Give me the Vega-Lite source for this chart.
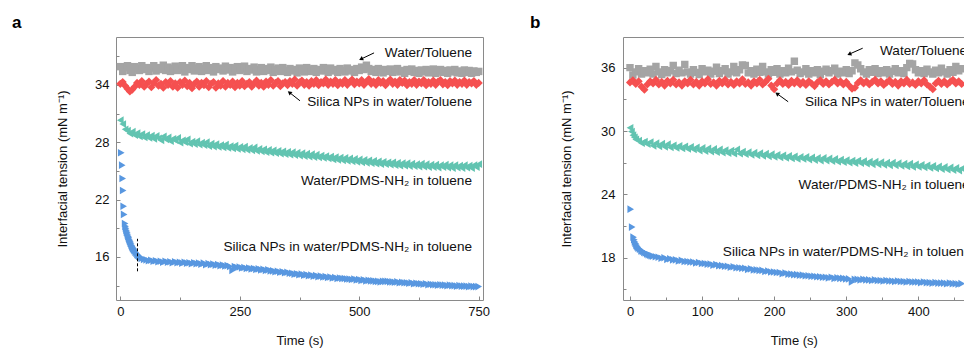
{
"$schema":"https://vega.github.io/schema/vega-lite/v6.json",
"padding":{"left":11,"top":13,"right":0,"bottom":0},
"spacing":39,
"config":{"font":"Liberation Sans","view":{"stroke":"#8a8a8a"},"axis":{"grid":false,"labelFontSize":13,"titleFontSize":13,"titleFontWeight":"normal","labelColor":"#111","titleColor":"#111","tickColor":"#888","domainColor":"#8a8a8a","labelFlush":false,"labelOverlap":false}},
"datasets":{
"aG":[{"t":0,"v":35.9},{"t":5,"v":35.4},{"t":10,"v":35.8},{"t":15,"v":36.0},{"t":20,"v":35.5},{"t":25,"v":35.3},{"t":30,"v":35.9},{"t":35,"v":35.7},{"t":40,"v":35.5},{"t":45,"v":36.0},{"t":50,"v":35.6},{"t":55,"v":35.8},{"t":60,"v":35.4},{"t":65,"v":35.75},{"t":70,"v":36.0},{"t":75,"v":35.45},{"t":80,"v":35.8},{"t":85,"v":35.6},{"t":90,"v":36.05},{"t":95,"v":35.5},{"t":100,"v":35.85},{"t":105,"v":35.4},{"t":110,"v":35.7},{"t":115,"v":35.95},{"t":120,"v":35.5},{"t":125,"v":35.65},{"t":130,"v":36.0},{"t":135,"v":35.35},{"t":140,"v":35.8},{"t":145,"v":35.6},{"t":150,"v":36.0},{"t":155,"v":35.45},{"t":160,"v":35.75},{"t":165,"v":35.9},{"t":170,"v":35.4},{"t":175,"v":35.7},{"t":180,"v":36.0},{"t":185,"v":35.5},{"t":190,"v":35.8},{"t":195,"v":35.35},{"t":200,"v":35.9},{"t":205,"v":35.6},{"t":210,"v":35.75},{"t":215,"v":35.45},{"t":220,"v":35.95},{"t":225,"v":35.55},{"t":230,"v":35.8},{"t":235,"v":35.35},{"t":240,"v":35.7},{"t":245,"v":35.9},{"t":250,"v":35.5},{"t":255,"v":35.65},{"t":260,"v":35.95},{"t":265,"v":35.4},{"t":270,"v":35.7},{"t":275,"v":35.55},{"t":280,"v":35.85},{"t":285,"v":35.35},{"t":290,"v":35.6},{"t":295,"v":35.8},{"t":300,"v":35.4},{"t":305,"v":35.7},{"t":310,"v":35.5},{"t":315,"v":35.85},{"t":320,"v":35.3},{"t":325,"v":35.6},{"t":330,"v":35.75},{"t":335,"v":35.4},{"t":340,"v":35.8},{"t":345,"v":35.5},{"t":350,"v":35.3},{"t":355,"v":35.7},{"t":360,"v":35.45},{"t":365,"v":35.6},{"t":370,"v":35.25},{"t":375,"v":35.75},{"t":380,"v":35.5},{"t":385,"v":35.35},{"t":390,"v":35.8},{"t":395,"v":35.55},{"t":400,"v":35.4},{"t":405,"v":35.7},{"t":410,"v":35.3},{"t":415,"v":35.6},{"t":420,"v":35.45},{"t":425,"v":35.8},{"t":430,"v":35.5},{"t":435,"v":35.3},{"t":440,"v":35.75},{"t":445,"v":35.45},{"t":450,"v":35.6},{"t":455,"v":35.3},{"t":460,"v":35.7},{"t":465,"v":35.5},{"t":470,"v":35.35},{"t":475,"v":35.75},{"t":480,"v":35.45},{"t":485,"v":35.6},{"t":490,"v":35.3},{"t":495,"v":35.7},{"t":500,"v":35.5},{"t":505,"v":35.85},{"t":510,"v":35.6},{"t":515,"v":36.05},{"t":520,"v":35.7},{"t":525,"v":35.4},{"t":530,"v":35.6},{"t":535,"v":35.3},{"t":540,"v":35.7},{"t":545,"v":35.45},{"t":550,"v":35.25},{"t":555,"v":35.6},{"t":560,"v":35.4},{"t":565,"v":35.65},{"t":570,"v":35.3},{"t":575,"v":35.55},{"t":580,"v":35.7},{"t":585,"v":35.35},{"t":590,"v":35.5},{"t":595,"v":35.2},{"t":600,"v":35.6},{"t":605,"v":35.4},{"t":610,"v":35.65},{"t":615,"v":35.3},{"t":620,"v":35.5},{"t":625,"v":35.2},{"t":630,"v":35.55},{"t":635,"v":35.35},{"t":640,"v":35.6},{"t":645,"v":35.25},{"t":650,"v":35.5},{"t":655,"v":35.65},{"t":660,"v":35.2},{"t":665,"v":35.45},{"t":670,"v":35.6},{"t":675,"v":35.3},{"t":680,"v":35.5},{"t":685,"v":35.2},{"t":690,"v":35.55},{"t":695,"v":35.35},{"t":700,"v":35.6},{"t":705,"v":35.25},{"t":710,"v":35.45},{"t":715,"v":35.2},{"t":720,"v":35.55},{"t":725,"v":35.3},{"t":730,"v":35.5},{"t":735,"v":35.2},{"t":740,"v":35.45},{"t":745,"v":35.3},{"t":750,"v":35.4}],
"aR":[{"t":0,"v":34.1},{"t":5,"v":34.3},{"t":10,"v":33.9},{"t":15,"v":33.6},{"t":20,"v":33.3},{"t":25,"v":33.5},{"t":30,"v":33.8},{"t":35,"v":34.2},{"t":40,"v":34.0},{"t":45,"v":34.4},{"t":50,"v":33.8},{"t":55,"v":34.1},{"t":60,"v":34.35},{"t":65,"v":33.75},{"t":70,"v":34.2},{"t":75,"v":34.5},{"t":80,"v":33.9},{"t":85,"v":34.1},{"t":90,"v":33.7},{"t":95,"v":34.3},{"t":100,"v":34.0},{"t":105,"v":34.4},{"t":110,"v":33.8},{"t":115,"v":34.15},{"t":120,"v":33.7},{"t":125,"v":34.3},{"t":130,"v":34.0},{"t":135,"v":34.45},{"t":140,"v":33.85},{"t":145,"v":34.2},{"t":150,"v":33.65},{"t":155,"v":34.1},{"t":160,"v":34.35},{"t":165,"v":33.8},{"t":170,"v":34.2},{"t":175,"v":33.95},{"t":180,"v":34.4},{"t":185,"v":33.75},{"t":190,"v":34.1},{"t":195,"v":34.3},{"t":200,"v":33.7},{"t":205,"v":34.15},{"t":210,"v":33.9},{"t":215,"v":34.4},{"t":220,"v":33.8},{"t":225,"v":34.2},{"t":230,"v":34.0},{"t":235,"v":34.35},{"t":240,"v":33.75},{"t":245,"v":34.2},{"t":250,"v":33.9},{"t":255,"v":34.4},{"t":260,"v":33.85},{"t":265,"v":34.1},{"t":270,"v":34.3},{"t":275,"v":33.8},{"t":280,"v":34.15},{"t":285,"v":34.45},{"t":290,"v":33.9},{"t":295,"v":34.2},{"t":300,"v":33.8},{"t":305,"v":34.35},{"t":310,"v":34.0},{"t":315,"v":34.5},{"t":320,"v":33.9},{"t":325,"v":34.2},{"t":330,"v":34.4},{"t":335,"v":33.85},{"t":340,"v":34.15},{"t":345,"v":34.3},{"t":350,"v":33.95},{"t":355,"v":34.4},{"t":360,"v":34.1},{"t":365,"v":34.55},{"t":370,"v":33.9},{"t":375,"v":34.25},{"t":380,"v":34.45},{"t":385,"v":34.0},{"t":390,"v":34.3},{"t":395,"v":33.9},{"t":400,"v":34.4},{"t":405,"v":34.1},{"t":410,"v":34.5},{"t":415,"v":33.95},{"t":420,"v":34.3},{"t":425,"v":34.15},{"t":430,"v":34.55},{"t":435,"v":34.0},{"t":440,"v":34.35},{"t":445,"v":34.1},{"t":450,"v":34.5},{"t":455,"v":33.95},{"t":460,"v":34.3},{"t":465,"v":34.1},{"t":470,"v":34.5},{"t":475,"v":34.0},{"t":480,"v":34.3},{"t":485,"v":34.55},{"t":490,"v":34.05},{"t":495,"v":34.35},{"t":500,"v":34.15},{"t":505,"v":34.5},{"t":510,"v":34.0},{"t":515,"v":34.3},{"t":520,"v":34.6},{"t":525,"v":34.1},{"t":530,"v":34.35},{"t":535,"v":34.0},{"t":540,"v":34.5},{"t":545,"v":34.2},{"t":550,"v":34.4},{"t":555,"v":33.95},{"t":560,"v":34.3},{"t":565,"v":34.55},{"t":570,"v":34.1},{"t":575,"v":34.35},{"t":580,"v":34.0},{"t":585,"v":34.5},{"t":590,"v":34.2},{"t":595,"v":34.45},{"t":600,"v":33.95},{"t":605,"v":34.3},{"t":610,"v":34.1},{"t":615,"v":34.5},{"t":620,"v":34.0},{"t":625,"v":34.35},{"t":630,"v":34.15},{"t":635,"v":34.5},{"t":640,"v":33.95},{"t":645,"v":34.3},{"t":650,"v":34.1},{"t":655,"v":34.45},{"t":660,"v":34.0},{"t":665,"v":34.35},{"t":670,"v":34.5},{"t":675,"v":34.05},{"t":680,"v":34.3},{"t":685,"v":33.95},{"t":690,"v":34.4},{"t":695,"v":34.15},{"t":700,"v":34.45},{"t":705,"v":34.0},{"t":710,"v":34.3},{"t":715,"v":34.1},{"t":720,"v":34.45},{"t":725,"v":34.0},{"t":730,"v":34.3},{"t":735,"v":34.15},{"t":740,"v":34.4},{"t":745,"v":34.0},{"t":750,"v":34.2}],
"aT":[{"t":0,"v":30.3},{"t":5,"v":29.9},{"t":10,"v":29.35},{"t":15,"v":29.2},{"t":20,"v":28.9},{"t":25,"v":29.1},{"t":30,"v":28.75},{"t":35,"v":28.95},{"t":40,"v":28.6},{"t":45,"v":28.85},{"t":50,"v":28.5},{"t":55,"v":28.75},{"t":60,"v":28.45},{"t":65,"v":28.7},{"t":70,"v":28.35},{"t":75,"v":28.65},{"t":80,"v":28.4},{"t":85,"v":28.2},{"t":90,"v":28.6},{"t":95,"v":28.3},{"t":100,"v":28.5},{"t":105,"v":28.1},{"t":110,"v":28.35},{"t":115,"v":28.2},{"t":120,"v":28.45},{"t":125,"v":27.95},{"t":130,"v":28.2},{"t":135,"v":28.0},{"t":140,"v":28.3},{"t":145,"v":27.85},{"t":150,"v":28.05},{"t":155,"v":27.8},{"t":160,"v":28.1},{"t":165,"v":27.75},{"t":170,"v":27.95},{"t":175,"v":27.7},{"t":180,"v":28.0},{"t":185,"v":27.6},{"t":190,"v":27.85},{"t":195,"v":27.55},{"t":200,"v":27.8},{"t":205,"v":27.5},{"t":210,"v":27.7},{"t":215,"v":27.45},{"t":220,"v":27.75},{"t":225,"v":27.4},{"t":230,"v":27.6},{"t":235,"v":27.35},{"t":240,"v":27.65},{"t":245,"v":27.3},{"t":250,"v":27.5},{"t":255,"v":27.25},{"t":260,"v":27.55},{"t":265,"v":27.2},{"t":270,"v":27.4},{"t":275,"v":27.15},{"t":280,"v":27.45},{"t":285,"v":27.1},{"t":290,"v":27.3},{"t":295,"v":27.05},{"t":300,"v":27.25},{"t":305,"v":26.95},{"t":310,"v":27.2},{"t":315,"v":26.9},{"t":320,"v":27.15},{"t":325,"v":26.85},{"t":330,"v":27.1},{"t":335,"v":26.8},{"t":340,"v":27.05},{"t":345,"v":26.75},{"t":350,"v":27.0},{"t":355,"v":26.7},{"t":360,"v":26.95},{"t":365,"v":26.65},{"t":370,"v":26.9},{"t":375,"v":26.6},{"t":380,"v":26.85},{"t":385,"v":26.55},{"t":390,"v":26.8},{"t":395,"v":26.5},{"t":400,"v":26.75},{"t":405,"v":26.45},{"t":410,"v":26.7},{"t":415,"v":26.4},{"t":420,"v":26.6},{"t":425,"v":26.35},{"t":430,"v":26.55},{"t":435,"v":26.3},{"t":440,"v":26.5},{"t":445,"v":26.2},{"t":450,"v":26.45},{"t":455,"v":26.15},{"t":460,"v":26.4},{"t":465,"v":26.1},{"t":470,"v":26.35},{"t":475,"v":26.05},{"t":480,"v":26.3},{"t":485,"v":26.0},{"t":490,"v":26.25},{"t":495,"v":25.95},{"t":500,"v":26.2},{"t":505,"v":25.9},{"t":510,"v":26.15},{"t":515,"v":25.85},{"t":520,"v":26.1},{"t":525,"v":25.8},{"t":530,"v":26.05},{"t":535,"v":25.75},{"t":540,"v":26.0},{"t":545,"v":25.7},{"t":550,"v":25.95},{"t":555,"v":25.7},{"t":560,"v":25.9},{"t":565,"v":25.65},{"t":570,"v":25.9},{"t":575,"v":25.6},{"t":580,"v":25.85},{"t":585,"v":25.55},{"t":590,"v":25.8},{"t":595,"v":25.55},{"t":600,"v":25.8},{"t":605,"v":25.5},{"t":610,"v":25.75},{"t":615,"v":25.5},{"t":620,"v":25.7},{"t":625,"v":25.45},{"t":630,"v":25.75},{"t":635,"v":25.45},{"t":640,"v":25.7},{"t":645,"v":25.4},{"t":650,"v":25.65},{"t":655,"v":25.4},{"t":660,"v":25.65},{"t":665,"v":25.35},{"t":670,"v":25.6},{"t":675,"v":25.4},{"t":680,"v":25.65},{"t":685,"v":25.35},{"t":690,"v":25.6},{"t":695,"v":25.3},{"t":700,"v":25.6},{"t":705,"v":25.35},{"t":710,"v":25.55},{"t":715,"v":25.3},{"t":720,"v":25.6},{"t":725,"v":25.35},{"t":730,"v":25.55},{"t":735,"v":25.3},{"t":740,"v":25.6},{"t":745,"v":25.4},{"t":750,"v":25.7}],
"aB":[{"t":2,"v":26.9},{"t":4,"v":25.6},{"t":5,"v":24.2},{"t":6,"v":22.95},{"t":7,"v":21.3},{"t":8,"v":20.45},{"t":10,"v":19.5},{"t":11,"v":19.2},{"t":12,"v":19.0},{"t":13,"v":18.8},{"t":14,"v":18.6},{"t":15,"v":18.5},{"t":16,"v":18.3},{"t":17,"v":18.15},{"t":18,"v":18.0},{"t":19,"v":17.85},{"t":20,"v":17.7},{"t":21,"v":17.6},{"t":22,"v":17.45},{"t":23,"v":17.35},{"t":24,"v":17.2},{"t":25,"v":17.1},{"t":26,"v":17.0},{"t":27,"v":16.9},{"t":28,"v":16.85},{"t":29,"v":16.75},{"t":30,"v":16.65},{"t":32,"v":16.5},{"t":34,"v":16.4},{"t":36,"v":16.25},{"t":38,"v":16.15},{"t":40,"v":16.05},{"t":42,"v":15.95},{"t":45,"v":15.85},{"t":50,"v":15.75},{"t":55,"v":15.7},{"t":60,"v":15.6},{"t":65,"v":15.65},{"t":70,"v":15.55},{"t":75,"v":15.6},{"t":80,"v":15.5},{"t":85,"v":15.55},{"t":90,"v":15.45},{"t":95,"v":15.55},{"t":100,"v":15.45},{"t":105,"v":15.5},{"t":110,"v":15.4},{"t":115,"v":15.5},{"t":120,"v":15.4},{"t":125,"v":15.45},{"t":130,"v":15.35},{"t":135,"v":15.45},{"t":140,"v":15.35},{"t":145,"v":15.4},{"t":150,"v":15.3},{"t":155,"v":15.4},{"t":160,"v":15.3},{"t":165,"v":15.35},{"t":170,"v":15.25},{"t":175,"v":15.35},{"t":180,"v":15.2},{"t":185,"v":15.3},{"t":190,"v":15.2},{"t":195,"v":15.25},{"t":200,"v":15.15},{"t":205,"v":15.2},{"t":210,"v":15.1},{"t":215,"v":15.15},{"t":220,"v":15.05},{"t":225,"v":15.1},{"t":230,"v":15.0},{"t":235,"v":14.6},{"t":240,"v":15.0},{"t":245,"v":14.9},{"t":250,"v":14.95},{"t":255,"v":14.85},{"t":260,"v":14.9},{"t":265,"v":14.8},{"t":270,"v":14.85},{"t":275,"v":14.75},{"t":280,"v":14.8},{"t":285,"v":14.7},{"t":290,"v":14.75},{"t":295,"v":14.65},{"t":300,"v":14.7},{"t":305,"v":14.6},{"t":310,"v":14.65},{"t":315,"v":14.55},{"t":320,"v":14.55},{"t":325,"v":14.45},{"t":330,"v":14.5},{"t":335,"v":14.4},{"t":340,"v":14.45},{"t":345,"v":14.35},{"t":350,"v":14.4},{"t":355,"v":14.3},{"t":360,"v":14.3},{"t":365,"v":14.2},{"t":370,"v":14.25},{"t":375,"v":14.15},{"t":380,"v":14.2},{"t":385,"v":14.1},{"t":390,"v":14.15},{"t":395,"v":14.05},{"t":400,"v":14.1},{"t":405,"v":14.0},{"t":410,"v":14.05},{"t":415,"v":13.95},{"t":420,"v":14.0},{"t":425,"v":13.9},{"t":430,"v":13.95},{"t":435,"v":13.85},{"t":440,"v":13.9},{"t":445,"v":13.8},{"t":450,"v":13.85},{"t":455,"v":13.75},{"t":460,"v":13.8},{"t":465,"v":13.75},{"t":470,"v":13.75},{"t":475,"v":13.7},{"t":480,"v":13.7},{"t":485,"v":13.65},{"t":490,"v":13.7},{"t":495,"v":13.6},{"t":500,"v":13.65},{"t":505,"v":13.55},{"t":510,"v":13.6},{"t":515,"v":13.5},{"t":520,"v":13.55},{"t":525,"v":13.5},{"t":530,"v":13.5},{"t":535,"v":13.45},{"t":540,"v":13.45},{"t":545,"v":13.4},{"t":550,"v":13.45},{"t":555,"v":13.45},{"t":560,"v":13.45},{"t":565,"v":13.4},{"t":570,"v":13.4},{"t":575,"v":13.35},{"t":580,"v":13.4},{"t":585,"v":13.3},{"t":590,"v":13.35},{"t":595,"v":13.3},{"t":600,"v":13.3},{"t":605,"v":13.25},{"t":610,"v":13.3},{"t":615,"v":13.2},{"t":620,"v":13.25},{"t":625,"v":13.2},{"t":630,"v":13.2},{"t":635,"v":13.15},{"t":640,"v":13.2},{"t":645,"v":13.1},{"t":650,"v":13.15},{"t":655,"v":13.1},{"t":660,"v":13.1},{"t":665,"v":13.05},{"t":670,"v":13.1},{"t":675,"v":13.05},{"t":680,"v":13.05},{"t":685,"v":13.0},{"t":690,"v":13.05},{"t":695,"v":13.0},{"t":700,"v":13.0},{"t":705,"v":12.95},{"t":710,"v":13.0},{"t":715,"v":12.95},{"t":720,"v":12.95},{"t":725,"v":12.95},{"t":730,"v":12.9},{"t":735,"v":12.95},{"t":740,"v":12.9},{"t":745,"v":12.9},{"t":750,"v":12.9}],
"aDash":[{"t":36,"v":14.5,"v2":17.9}],
"aArrow":[{"t":531,"v":37.34,"t2":505,"v2":36.72},{"t":376,"v":32.33,"t2":355,"v2":33.16}],
"aText":[{"t":736,"v":37.34,"label":"Water/Toluene"},{"t":736,"v":32.25,"label":"Silica NPs in water/Toluene"},{"t":736,"v":23.97,"label":"Water/PDMS-NH₂ in toluene"},{"t":736,"v":17.07,"label":"Silica NPs in water/PDMS-NH₂ in toluene"}],
"bG":[{"t":0,"v":36.0},{"t":4,"v":35.3},{"t":8,"v":35.6},{"t":12,"v":35.9},{"t":16,"v":35.4},{"t":20,"v":35.7},{"t":24,"v":35.5},{"t":28,"v":35.85},{"t":32,"v":35.4},{"t":36,"v":36.1},{"t":40,"v":35.6},{"t":44,"v":35.35},{"t":48,"v":35.8},{"t":52,"v":35.5},{"t":56,"v":35.7},{"t":60,"v":36.2},{"t":64,"v":35.45},{"t":68,"v":35.75},{"t":72,"v":35.5},{"t":76,"v":36.3},{"t":80,"v":35.6},{"t":84,"v":35.4},{"t":88,"v":35.8},{"t":92,"v":35.55},{"t":96,"v":35.35},{"t":100,"v":35.9},{"t":104,"v":35.6},{"t":108,"v":35.75},{"t":112,"v":35.4},{"t":116,"v":35.65},{"t":120,"v":36.05},{"t":124,"v":35.45},{"t":128,"v":35.7},{"t":132,"v":35.9},{"t":136,"v":35.4},{"t":140,"v":35.6},{"t":144,"v":36.1},{"t":148,"v":35.5},{"t":152,"v":35.8},{"t":156,"v":36.25},{"t":160,"v":36.2},{"t":164,"v":35.5},{"t":168,"v":35.7},{"t":172,"v":35.4},{"t":176,"v":35.85},{"t":180,"v":35.55},{"t":184,"v":36.1},{"t":188,"v":35.6},{"t":192,"v":35.4},{"t":196,"v":35.8},{"t":200,"v":35.55},{"t":204,"v":35.9},{"t":208,"v":35.4},{"t":212,"v":35.7},{"t":216,"v":35.5},{"t":220,"v":35.95},{"t":224,"v":35.6},{"t":228,"v":36.6},{"t":232,"v":35.75},{"t":236,"v":35.45},{"t":240,"v":35.6},{"t":244,"v":35.9},{"t":248,"v":35.4},{"t":252,"v":35.7},{"t":256,"v":35.5},{"t":260,"v":35.8},{"t":264,"v":35.35},{"t":268,"v":35.65},{"t":272,"v":35.85},{"t":276,"v":35.5},{"t":280,"v":35.7},{"t":284,"v":35.95},{"t":288,"v":35.4},{"t":292,"v":35.65},{"t":296,"v":35.5},{"t":300,"v":35.8},{"t":304,"v":35.45},{"t":308,"v":35.7},{"t":312,"v":36.45},{"t":316,"v":36.25},{"t":320,"v":35.9},{"t":324,"v":35.6},{"t":328,"v":35.4},{"t":332,"v":35.8},{"t":336,"v":35.55},{"t":340,"v":35.9},{"t":344,"v":35.45},{"t":348,"v":35.7},{"t":352,"v":35.5},{"t":356,"v":35.8},{"t":360,"v":35.4},{"t":364,"v":35.65},{"t":368,"v":35.9},{"t":372,"v":35.5},{"t":376,"v":35.7},{"t":380,"v":35.45},{"t":384,"v":36.0},{"t":388,"v":36.4},{"t":392,"v":36.35},{"t":396,"v":35.8},{"t":400,"v":35.5},{"t":404,"v":35.7},{"t":408,"v":35.45},{"t":412,"v":35.85},{"t":416,"v":35.6},{"t":420,"v":35.4},{"t":424,"v":35.75},{"t":428,"v":35.5},{"t":432,"v":35.95},{"t":436,"v":35.6},{"t":440,"v":35.4},{"t":444,"v":35.8},{"t":448,"v":35.55},{"t":452,"v":36.1},{"t":456,"v":35.7},{"t":460,"v":35.9}],
"bR":[{"t":0,"v":34.6},{"t":4,"v":34.8},{"t":8,"v":34.45},{"t":12,"v":34.7},{"t":16,"v":34.2},{"t":20,"v":33.9},{"t":24,"v":34.4},{"t":28,"v":34.7},{"t":32,"v":34.5},{"t":36,"v":34.85},{"t":40,"v":34.4},{"t":44,"v":34.65},{"t":48,"v":34.3},{"t":52,"v":34.75},{"t":56,"v":34.5},{"t":60,"v":34.85},{"t":64,"v":34.4},{"t":68,"v":34.6},{"t":72,"v":34.3},{"t":76,"v":34.7},{"t":80,"v":34.5},{"t":84,"v":34.85},{"t":88,"v":34.4},{"t":92,"v":34.65},{"t":96,"v":34.3},{"t":100,"v":34.7},{"t":104,"v":34.5},{"t":108,"v":34.9},{"t":112,"v":34.45},{"t":116,"v":34.6},{"t":120,"v":34.3},{"t":124,"v":34.75},{"t":128,"v":34.5},{"t":132,"v":34.85},{"t":136,"v":34.4},{"t":140,"v":34.65},{"t":144,"v":34.35},{"t":148,"v":34.7},{"t":152,"v":34.5},{"t":156,"v":34.9},{"t":160,"v":34.45},{"t":164,"v":34.6},{"t":168,"v":34.3},{"t":172,"v":34.7},{"t":176,"v":34.5},{"t":180,"v":34.85},{"t":184,"v":34.4},{"t":188,"v":34.65},{"t":192,"v":34.95},{"t":196,"v":34.3},{"t":200,"v":33.95},{"t":204,"v":34.5},{"t":208,"v":34.8},{"t":212,"v":34.45},{"t":216,"v":34.65},{"t":220,"v":34.35},{"t":224,"v":34.75},{"t":228,"v":34.5},{"t":232,"v":34.8},{"t":236,"v":34.4},{"t":240,"v":34.65},{"t":244,"v":34.35},{"t":248,"v":34.7},{"t":252,"v":34.5},{"t":256,"v":34.25},{"t":260,"v":34.6},{"t":264,"v":34.8},{"t":268,"v":34.45},{"t":272,"v":34.7},{"t":276,"v":34.4},{"t":280,"v":34.65},{"t":284,"v":34.85},{"t":288,"v":34.5},{"t":292,"v":34.7},{"t":296,"v":34.4},{"t":300,"v":34.65},{"t":304,"v":34.3},{"t":308,"v":34.0},{"t":312,"v":34.1},{"t":316,"v":34.55},{"t":320,"v":34.8},{"t":324,"v":34.5},{"t":328,"v":34.7},{"t":332,"v":34.4},{"t":336,"v":34.65},{"t":340,"v":34.85},{"t":344,"v":34.5},{"t":348,"v":34.7},{"t":352,"v":34.35},{"t":356,"v":34.6},{"t":360,"v":34.8},{"t":364,"v":34.45},{"t":368,"v":34.65},{"t":372,"v":34.3},{"t":376,"v":34.7},{"t":380,"v":34.5},{"t":384,"v":34.85},{"t":388,"v":34.45},{"t":392,"v":34.6},{"t":396,"v":34.35},{"t":400,"v":34.7},{"t":404,"v":34.5},{"t":408,"v":34.8},{"t":412,"v":34.4},{"t":416,"v":34.2},{"t":420,"v":33.95},{"t":424,"v":34.5},{"t":428,"v":34.75},{"t":432,"v":34.45},{"t":436,"v":34.7},{"t":440,"v":34.4},{"t":444,"v":34.65},{"t":448,"v":34.85},{"t":452,"v":34.5},{"t":456,"v":34.7},{"t":460,"v":34.45}],
"bT":[{"t":0,"v":30.3},{"t":2,"v":29.95},{"t":4,"v":29.6},{"t":6,"v":29.4},{"t":8,"v":29.2},{"t":12,"v":29.1},{"t":16,"v":28.85},{"t":20,"v":29.0},{"t":24,"v":28.75},{"t":28,"v":28.95},{"t":32,"v":28.6},{"t":36,"v":28.85},{"t":40,"v":28.55},{"t":44,"v":28.8},{"t":48,"v":28.5},{"t":52,"v":28.75},{"t":56,"v":28.45},{"t":60,"v":28.65},{"t":64,"v":28.4},{"t":68,"v":28.6},{"t":72,"v":28.35},{"t":76,"v":28.55},{"t":80,"v":28.3},{"t":84,"v":28.5},{"t":88,"v":28.25},{"t":92,"v":28.45},{"t":96,"v":28.15},{"t":100,"v":28.4},{"t":104,"v":28.1},{"t":108,"v":28.35},{"t":112,"v":28.05},{"t":116,"v":28.3},{"t":120,"v":28.0},{"t":124,"v":28.25},{"t":128,"v":27.95},{"t":132,"v":28.2},{"t":136,"v":27.9},{"t":140,"v":28.15},{"t":144,"v":27.85},{"t":148,"v":28.25},{"t":152,"v":27.85},{"t":156,"v":28.05},{"t":160,"v":27.8},{"t":164,"v":28.0},{"t":168,"v":27.75},{"t":172,"v":27.95},{"t":176,"v":27.7},{"t":180,"v":27.9},{"t":184,"v":27.65},{"t":188,"v":27.85},{"t":192,"v":27.6},{"t":196,"v":27.8},{"t":200,"v":27.55},{"t":204,"v":27.75},{"t":208,"v":27.5},{"t":212,"v":27.7},{"t":216,"v":27.45},{"t":220,"v":27.65},{"t":224,"v":27.4},{"t":228,"v":27.6},{"t":232,"v":27.35},{"t":236,"v":27.55},{"t":240,"v":27.35},{"t":244,"v":27.55},{"t":248,"v":27.3},{"t":252,"v":27.5},{"t":256,"v":27.25},{"t":260,"v":27.45},{"t":264,"v":27.2},{"t":268,"v":27.45},{"t":272,"v":27.2},{"t":276,"v":27.4},{"t":280,"v":27.15},{"t":284,"v":27.35},{"t":288,"v":27.1},{"t":292,"v":27.3},{"t":296,"v":27.05},{"t":300,"v":27.25},{"t":304,"v":27.0},{"t":308,"v":27.2},{"t":312,"v":26.95},{"t":316,"v":27.2},{"t":320,"v":26.95},{"t":324,"v":27.15},{"t":328,"v":26.9},{"t":332,"v":27.1},{"t":336,"v":26.85},{"t":340,"v":27.1},{"t":344,"v":26.85},{"t":348,"v":27.05},{"t":352,"v":26.8},{"t":356,"v":27.0},{"t":360,"v":26.75},{"t":364,"v":27.0},{"t":368,"v":26.75},{"t":372,"v":26.95},{"t":376,"v":26.7},{"t":380,"v":26.9},{"t":384,"v":26.65},{"t":388,"v":26.9},{"t":392,"v":26.6},{"t":396,"v":26.85},{"t":400,"v":26.6},{"t":404,"v":26.8},{"t":408,"v":26.55},{"t":412,"v":26.75},{"t":416,"v":26.5},{"t":420,"v":26.7},{"t":424,"v":26.45},{"t":428,"v":26.65},{"t":432,"v":26.4},{"t":436,"v":26.6},{"t":440,"v":26.35},{"t":444,"v":26.55},{"t":448,"v":26.3},{"t":452,"v":26.5},{"t":456,"v":26.25},{"t":460,"v":26.45}],
"bB":[{"t":1,"v":22.6},{"t":3,"v":20.9},{"t":5,"v":19.95},{"t":6,"v":19.7},{"t":7,"v":19.5},{"t":8,"v":19.35},{"t":9,"v":19.2},{"t":10,"v":19.1},{"t":11,"v":19.0},{"t":12,"v":18.9},{"t":14,"v":18.8},{"t":16,"v":18.65},{"t":18,"v":18.6},{"t":20,"v":18.5},{"t":22,"v":18.45},{"t":24,"v":18.35},{"t":26,"v":18.3},{"t":28,"v":18.25},{"t":30,"v":18.2},{"t":32,"v":18.15},{"t":36,"v":18.1},{"t":40,"v":18.05},{"t":44,"v":17.95},{"t":48,"v":18.0},{"t":52,"v":17.85},{"t":56,"v":17.9},{"t":60,"v":17.8},{"t":64,"v":17.8},{"t":68,"v":17.7},{"t":72,"v":17.75},{"t":76,"v":17.65},{"t":80,"v":17.65},{"t":84,"v":17.6},{"t":88,"v":17.6},{"t":92,"v":17.5},{"t":96,"v":17.55},{"t":100,"v":17.45},{"t":104,"v":17.45},{"t":108,"v":17.4},{"t":112,"v":17.4},{"t":116,"v":17.3},{"t":120,"v":17.35},{"t":124,"v":17.25},{"t":128,"v":17.25},{"t":132,"v":17.2},{"t":136,"v":17.2},{"t":140,"v":17.1},{"t":144,"v":17.15},{"t":148,"v":17.05},{"t":152,"v":17.05},{"t":156,"v":17.0},{"t":160,"v":17.0},{"t":164,"v":16.9},{"t":168,"v":16.95},{"t":172,"v":16.85},{"t":176,"v":16.85},{"t":180,"v":16.8},{"t":184,"v":16.8},{"t":188,"v":16.7},{"t":192,"v":16.75},{"t":196,"v":16.65},{"t":200,"v":16.65},{"t":204,"v":16.6},{"t":208,"v":16.6},{"t":212,"v":16.5},{"t":216,"v":16.55},{"t":220,"v":16.45},{"t":224,"v":16.45},{"t":228,"v":16.4},{"t":232,"v":16.4},{"t":236,"v":16.35},{"t":240,"v":16.35},{"t":244,"v":16.3},{"t":248,"v":16.3},{"t":252,"v":16.25},{"t":256,"v":16.25},{"t":260,"v":16.2},{"t":264,"v":16.2},{"t":268,"v":16.15},{"t":272,"v":16.15},{"t":276,"v":16.1},{"t":280,"v":16.15},{"t":284,"v":16.05},{"t":288,"v":16.1},{"t":292,"v":16.05},{"t":296,"v":16.05},{"t":300,"v":16.0},{"t":304,"v":16.0},{"t":308,"v":15.7},{"t":312,"v":15.95},{"t":316,"v":15.95},{"t":320,"v":15.9},{"t":324,"v":15.95},{"t":328,"v":15.9},{"t":332,"v":15.9},{"t":336,"v":15.85},{"t":340,"v":15.9},{"t":344,"v":15.85},{"t":348,"v":15.85},{"t":352,"v":15.8},{"t":356,"v":15.85},{"t":360,"v":15.8},{"t":364,"v":15.8},{"t":368,"v":15.75},{"t":372,"v":15.8},{"t":376,"v":15.75},{"t":380,"v":15.75},{"t":384,"v":15.7},{"t":388,"v":15.75},{"t":392,"v":15.7},{"t":396,"v":15.7},{"t":400,"v":15.7},{"t":404,"v":15.65},{"t":408,"v":15.7},{"t":412,"v":15.65},{"t":416,"v":15.65},{"t":420,"v":15.6},{"t":424,"v":15.65},{"t":428,"v":15.6},{"t":432,"v":15.6},{"t":436,"v":15.6},{"t":440,"v":15.55},{"t":444,"v":15.6},{"t":448,"v":15.55},{"t":452,"v":15.55},{"t":456,"v":15.5},{"t":460,"v":15.55}],
"bArrow":[{"t":322.8,"v":37.84,"t2":305,"v2":37.3},{"t":219.4,"v":32.77,"t2":204.7,"v2":33.5}],
"bText":[{"t":346.8,"v":37.59,"label":"Water/Toluene"},{"t":242.6,"v":32.71,"label":"Silica NPs in water/Toluene"},{"t":233.9,"v":24.93,"label":"Water/PDMS-NH₂ in toluene"},{"t":128.8,"v":18.53,"label":"Silica NPs in water/PDMS-NH₂ in toluene"}]
},
"hconcat":[
{
"width":367,"height":263,
"title":{"text":"a","anchor":"start","frame":"group","dx":-104,"offset":-8,"baseline":"alphabetic","fontSize":17,"fontWeight":"bold","color":"#000"},
"encoding":{
"x":{"field":"t","type":"quantitative","scale":{"domain":[-9,759],"nice":false,"zero":false},"axis":null},
"y":{"field":"v","type":"quantitative","scale":{"domain":[11.5,39],"nice":false,"zero":false},"axis":null}
},
"layer":[
{"data":{"name":"aG"},"mark":{"type":"point","shape":"square","filled":true,"size":55,"color":"#a4a4a4","opacity":1},
"encoding":{
"x":{"field":"t","type":"quantitative","scale":{"domain":[-9,759],"nice":false,"zero":false},"axis":{"orient":"bottom","values":[0,250,500,750],"title":"Time (s)","tickSize":-4,"labelPadding":9,"titlePadding":16,"domain":false}},
"y":{"field":"v","type":"quantitative","scale":{"domain":[11.5,39],"nice":false,"zero":false},"axis":{"orient":"left","values":[16,22,28,34],"title":"Interfacial tension (mN m⁻¹)","tickSize":-4,"labelPadding":11,"titlePadding":25,"domain":false}}}},
{"data":{"name":"aR"},"mark":{"type":"point","shape":"diamond","filled":true,"size":66,"color":"#f55050","opacity":1},
"encoding":{
"x":{"field":"t","type":"quantitative","scale":{"domain":[-9,759],"nice":false,"zero":false},"axis":{"orient":"bottom","values":[125,375,625],"labels":false,"title":null,"tickSize":-3,"domain":false}},
"y":{"field":"v","type":"quantitative","scale":{"domain":[11.5,39],"nice":false,"zero":false},"axis":{"orient":"left","values":[13,19,25,31,37],"labels":false,"title":null,"tickSize":-3,"domain":false}}}},
{"data":{"name":"aT"},"mark":{"type":"point","shape":"triangle-left","filled":true,"size":60,"color":"#62c4b1","opacity":1}},
{"data":{"name":"aB"},"mark":{"type":"point","shape":"triangle-right","filled":true,"size":58,"color":"#5897e0","opacity":1}},
{"data":{"name":"aDash"},"mark":{"type":"rule","color":"#000","strokeDash":[3,2],"strokeWidth":1},"encoding":{"y2":{"field":"v2"}}},
{"data":{"name":"aArrow"},"mark":{"type":"rule","color":"#000","strokeWidth":1},"encoding":{"x2":{"field":"t2"},"y2":{"field":"v2"}}},
{"data":{"name":"aArrow"},"transform":[{"filter":"datum.v2 > 35"}],"mark":{"type":"point","shape":"triangle","filled":true,"size":22,"color":"#000","opacity":1,"angle":243},"encoding":{"x":{"field":"t2","type":"quantitative"},"y":{"field":"v2","type":"quantitative"}}},
{"data":{"name":"aArrow"},"transform":[{"filter":"datum.v2 < 35"}],"mark":{"type":"point","shape":"triangle","filled":true,"size":22,"color":"#000","opacity":1,"angle":309},"encoding":{"x":{"field":"t2","type":"quantitative"},"y":{"field":"v2","type":"quantitative"}}},
{"data":{"name":"aText"},"mark":{"type":"text","align":"right","baseline":"middle","fontSize":13.6,"color":"#111"},"encoding":{"text":{"field":"label"}}}
],
"resolve":{"axis":{"x":"independent","y":"independent"}}
},
{
"width":341.7,"height":263,
"view":{"stroke":null},
"title":{"text":"b","anchor":"start","frame":"group","dx":-93,"offset":-8,"baseline":"alphabetic","fontSize":17,"fontWeight":"bold","color":"#000"},
"encoding":{
"x":{"field":"t","type":"quantitative","scale":{"domain":[-9.7,464.3],"nice":false,"zero":false},"axis":null},
"y":{"field":"v","type":"quantitative","scale":{"domain":[14,38.9],"nice":false,"zero":false},"axis":null}
},
"layer":[
{"data":{"name":"bG"},"mark":{"type":"point","shape":"square","filled":true,"size":55,"color":"#a4a4a4","opacity":1,"clip":true},
"encoding":{
"x":{"field":"t","type":"quantitative","scale":{"domain":[-9.7,464.3],"nice":false,"zero":false},"axis":{"orient":"bottom","values":[0,100,200,300,400],"title":"Time (s)","tickSize":-4,"labelPadding":9,"titlePadding":16,"domain":true}},
"y":{"field":"v","type":"quantitative","scale":{"domain":[14,38.9],"nice":false,"zero":false},"axis":{"orient":"left","values":[18,24,30,36],"title":"Interfacial tension (mN m⁻¹)","tickSize":-4,"labelPadding":12,"titlePadding":27,"domain":true}}}},
{"data":{"name":"bR"},"mark":{"type":"point","shape":"diamond","filled":true,"size":66,"color":"#f55050","opacity":1,"clip":true},
"encoding":{
"x":{"field":"t","type":"quantitative","scale":{"domain":[-9.7,464.3],"nice":false,"zero":false},"axis":{"orient":"bottom","values":[50,150,250,350,450],"labels":false,"title":null,"tickSize":-3,"domain":false}},
"y":{"field":"v","type":"quantitative","scale":{"domain":[14,38.9],"nice":false,"zero":false},"axis":{"orient":"left","values":[15,21,27,33],"labels":false,"title":null,"tickSize":-3,"domain":false}}}},
{"data":{"name":"bT"},"mark":{"type":"point","shape":"triangle-left","filled":true,"size":60,"color":"#62c4b1","opacity":1,"clip":true},
"encoding":{
"x":{"field":"t","type":"quantitative","scale":{"domain":[-9.7,464.3],"nice":false,"zero":false},"axis":{"orient":"top","ticks":false,"labels":false,"title":null,"domain":true}}}},
{"data":{"name":"bB"},"mark":{"type":"point","shape":"triangle-right","filled":true,"size":58,"color":"#5897e0","opacity":1,"clip":true}},
{"data":{"name":"bArrow"},"mark":{"type":"rule","color":"#000","strokeWidth":1},"encoding":{"x2":{"field":"t2"},"y2":{"field":"v2"}}},
{"data":{"name":"bArrow"},"transform":[{"filter":"datum.v2 > 35"}],"mark":{"type":"point","shape":"triangle","filled":true,"size":22,"color":"#000","opacity":1,"angle":246},"encoding":{"x":{"field":"t2","type":"quantitative"},"y":{"field":"v2","type":"quantitative"}}},
{"data":{"name":"bArrow"},"transform":[{"filter":"datum.v2 < 35"}],"mark":{"type":"point","shape":"triangle","filled":true,"size":22,"color":"#000","opacity":1,"angle":306},"encoding":{"x":{"field":"t2","type":"quantitative"},"y":{"field":"v2","type":"quantitative"}}},
{"data":{"name":"bText"},"mark":{"type":"text","align":"left","baseline":"middle","fontSize":13.6,"color":"#111","clip":true},"encoding":{"text":{"field":"label"}}}
],
"resolve":{"axis":{"x":"independent","y":"independent"}}
}
]
}
